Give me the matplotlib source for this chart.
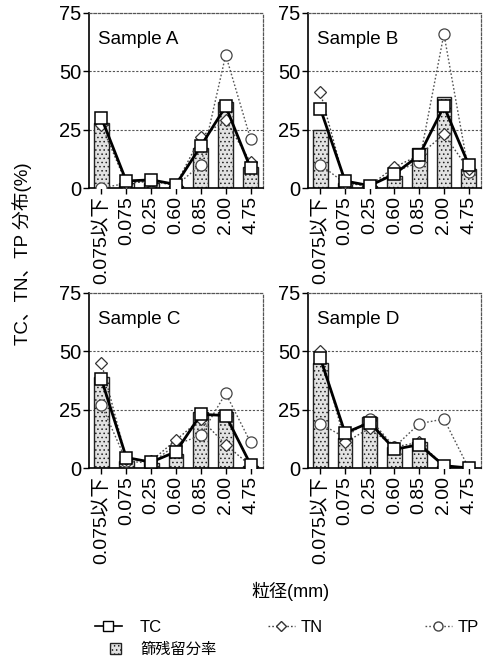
import matplotlib
matplotlib.use("Agg")
import matplotlib.pyplot as plt
from matplotlib.lines import Line2D
from matplotlib.patches import Patch

plt.rcParams['font.family'] = ['Liberation Sans', 'Noto Sans CJK JP', 'DejaVu Sans']
plt.rcParams['hatch.color'] = '#9a9a9a'
plt.rcParams['hatch.linewidth'] = 0.6

categories = ['0.075以下', '0.075', '0.25', '0.60', '0.85', '2.00', '4.75']
samples = ['Sample A', 'Sample B', 'Sample C', 'Sample D']

sieve = {
    'Sample A': [28, 2, 2, 1, 17, 37, 9],
    'Sample B': [25, 2, 1, 5, 17, 39, 8],
    'Sample C': [39, 3, 2, 6, 24, 24, 1],
    'Sample D': [45, 13, 22, 9, 11, 1, 0],
}
tc = {
    'Sample A': [30, 3, 3.5, 1.5, 18, 35, 8.5],
    'Sample B': [34, 3, 1, 6, 14, 35, 10],
    'Sample C': [38, 4.5, 2.5, 7, 23, 22.5, 1.5],
    'Sample D': [47, 15, 19.5, 8, 10, 1, 0],
}
tn = {
    'Sample A': [27, 2, 3, 1.5, 22, 29, 11],
    'Sample B': [41, 2, 1, 9, 14, 23, 8],
    'Sample C': [45, 4, 3, 12, 21, 10, 1],
    'Sample D': [50, 11, 17, 9, 11, 1, 0],
}
tp = {
    'Sample A': [0, 2, 3, 1, 10, 57, 21],
    'Sample B': [10, 2, 1, 7, 11, 66, 7],
    'Sample C': [27, 3, 2, 10, 14, 32, 11],
    'Sample D': [19, 13, 21, 9, 19, 21, 0],
}
yticks = [0, 25, 50, 75]

W, H = 491, 672
fig = plt.figure(figsize=(W / 100, H / 100), dpi=100)

boxes = {
    'Sample A': (89, 13, 174, 175),
    'Sample B': (308, 13, 173, 175),
    'Sample C': (89, 293, 174, 175),
    'Sample D': (308, 293, 173, 175),
}

x = list(range(len(categories)))
for s in samples:
    l, t, w, h = boxes[s]
    ax = fig.add_axes([l / W, 1 - (t + h) / H, w / W, h / H])
    ax.bar(x, sieve[s], width=0.6, facecolor='#e2e2e2', edgecolor='#222222',
           linewidth=1.0, hatch='....', zorder=2)
    ax.plot(x, tp[s], linestyle=(0, (1.2, 1.5)), color='#555555', linewidth=1.0,
            marker='o', markersize=8, markerfacecolor='white', markeredgecolor='#444444',
            markeredgewidth=0.9, zorder=3)
    ax.plot(x, tn[s], linestyle=(0, (1.2, 1.5)), color='#444444', linewidth=1.0,
            marker='D', markersize=6.5, markerfacecolor='white', markeredgecolor='#333333',
            markeredgewidth=0.9, zorder=4)
    ax.plot(x, tc[s], linestyle='-', color='black', linewidth=2.0,
            marker='s', markersize=9, markerfacecolor='white', markeredgecolor='black',
            markeredgewidth=1.1, zorder=5)
    ax.set_xlim(-0.5, 6.5)
    ax.set_ylim(0, 75)
    ax.set_yticks(yticks)
    ax.set_yticklabels([str(v) for v in yticks], fontsize=14.5)
    ax.set_xticks(x)
    ax.set_xticklabels(categories, rotation=90, fontsize=14)
    ax.tick_params(axis='both', direction='out', length=4, width=1, pad=1.5)
    for yv in [25, 50]:
        ax.axhline(yv, color='#555555', linewidth=0.8, linestyle=(0, (2, 1.5)), zorder=1)
    for sp in ['top', 'right']:
        ax.spines[sp].set_linestyle((0, (2, 1.5)))
        ax.spines[sp].set_color('#555555')
        ax.spines[sp].set_linewidth(0.9)
    for sp in ['left', 'bottom']:
        ax.spines[sp].set_color('black')
        ax.spines[sp].set_linewidth(1.2)
    ax.text(0.05, 0.85, s, transform=ax.transAxes, fontsize=13.5, ha='left', va='center')

fig.text(22 / W, 1 - 254 / H, 'TC、TN、TP 分布(%)', rotation=90, ha='center', va='center',
         fontsize=13.5)
fig.text(290 / W, 1 - 591 / H, '粒径(mm)', ha='center', va='center', fontsize=13)

def leg(handle, label, xpx, ypx, pad, fs=12, hl=1.6, hh=0.7):
    return fig.legend(handles=[handle], labels=[label], loc='center left',
                      bbox_to_anchor=(xpx / W, 1 - ypx / H), frameon=False,
                      fontsize=fs, handlelength=hl, handleheight=hh, handletextpad=pad,
                      borderpad=0, borderaxespad=0)

h_tc = Line2D([], [], color='black', linewidth=1.2, marker='s', markersize=7,
              markerfacecolor='white', markeredgecolor='black')
h_tn = Line2D([], [], color='#444444', linewidth=1.0, linestyle=(0, (1.2, 1.5)), marker='D',
              markersize=5.5, markerfacecolor='white', markeredgecolor='#333333')
h_tp = Line2D([], [], color='#555555', linewidth=1.0, linestyle=(0, (1.2, 1.5)), marker='o',
              markersize=6.5, markerfacecolor='white', markeredgecolor='#444444')
h_bar = Patch(facecolor='#e2e2e2', edgecolor='#222222', hatch='....', linewidth=1.0)

leg(h_tc, 'TC', 95, 627, 1.1)
leg(h_tn, 'TN', 268, 627, 0.35)
leg(h_tp, 'TP', 425, 627, 0.35)
leg(h_bar, '篩残留分率', 110, 650, 1.3, fs=11, hl=0.7, hh=0.7)

fig.savefig('out.png', dpi=100)
